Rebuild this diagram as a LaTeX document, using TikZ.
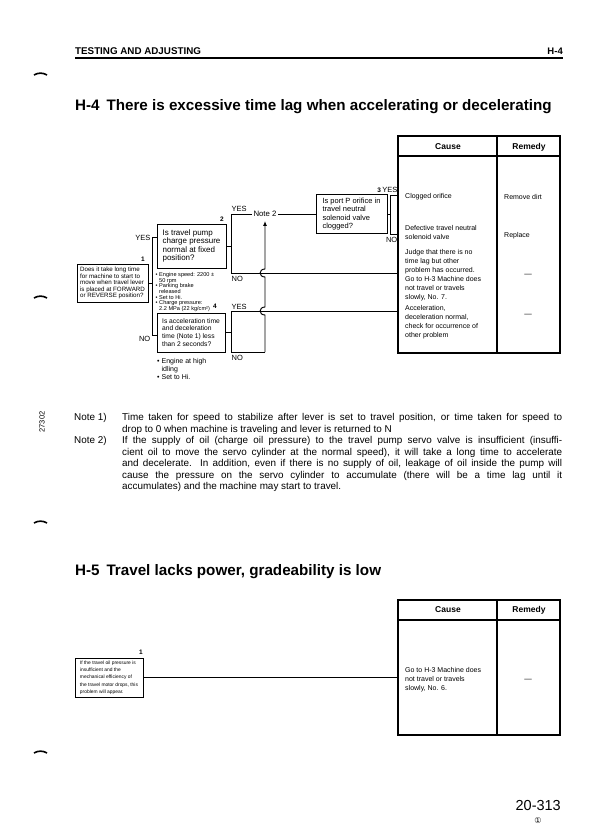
\documentclass[tikz,border=0pt]{standalone}
\usepackage{fontspec}
\setmainfont{Liberation Sans}
\newfontfamily\symfont{DejaVu Sans}
\usetikzlibrary{arrows.meta}
\newcommand\fsz[2]{\fontsize{#1}{#2}\selectfont}
\begin{document}
\begin{tikzpicture}[x=1pt,y=-1pt,
  conn/.style={line width=0.95pt},
  tline/.style={line width=1.1pt},
  boxq/.style={draw, line width=0.95pt, inner sep=0pt, align=left},
  tabl/.style={draw, line width=1.1pt, inner sep=0pt},
  lbl/.style={inner sep=0pt, font=\fsz{7.5}{8}},
  num/.style={inner sep=0pt, font=\bfseries\fsz{6.5}{7}},
  rowt/.style={inner sep=0pt, anchor=north west, align=left, font=\fsz{7}{8.9}},
  hdt/.style={inner sep=0pt, font=\bfseries\fsz{8.5}{9}},
  notel/.style={inner sep=0pt, anchor=base west, font=\fsz{9.9}{11}},
  mmark/.style={line width=1.6pt},
]
\useasboundingbox (0,0) rectangle (593,836);

% ---------- page header ----------
\node[anchor=base west, inner sep=0pt, font=\bfseries\fsz{9.8}{11}] (hdr) at (75,54) {TESTING AND ADJUSTING};
\node[anchor=base east, inner sep=0pt, font=\bfseries\fsz{9.5}{11}] (hdrr) at (563,54) {H-4};
\draw[line width=1.1pt] (75,58) -- (563,58);

% margin marks
\foreach \yy in {74,297,522,752}{
  \draw[mmark] (34,\yy+1) .. controls (38,\yy-1.5) and (43,\yy-1.5) .. (47,\yy+1);
}
\node[rotate=90, inner sep=0pt, font=\fsz{7.5}{8}] (code) at (42,422) {27302};

% ---------- H-4 ----------
\node[anchor=base west, inner sep=0pt, font=\bfseries\fsz{15.2}{18}] (title1) at (75,110) {H-4\hspace{0.45em}There is excessive time lag when accelerating or decelerating};

% table
\node[tabl, minimum width=162pt, minimum height=217pt] (tab1) at (479,244.5) {};
\draw[tline] (398,156) -- (560,156);
\draw[tline] (497,136) -- (497,353);
\node[hdt] (cause1) at (448,147) {Cause};
\node[hdt] (remedy1) at (529,147) {Remedy};

\node[rowt] (c1) at (405,193.5) {Clogged orifice};
\node[rowt] (c2) at (405,225) {Defective travel neutral\\solenoid valve};
\node[rowt] (c3) at (405,249.5) {Judge that there is no\\time lag but other\\problem has occurred.\\Go to H-3 Machine does\\not travel or travels\\slowly, No. 7.};
\node[rowt] (c4) at (405,305.5) {Acceleration,\\deceleration normal,\\check for occurrence of\\other problem};
\node[rowt] (m1) at (504,194.5) {Remove dirt};
\node[rowt] (m2) at (504,232.5) {Replace};
\node[inner sep=0pt, font=\fsz{7.5}{8}] (m3) at (528,275) {—};
\node[inner sep=0pt, font=\fsz{7.5}{8}] (m4) at (528,315) {—};

% boxes
\node[boxq, minimum width=71pt, minimum height=38pt, font=\fsz{6.2}{6.6}] (b1) at (112.5,283)
  {Does it take long time\\for machine to start to\\move when travel lever\\is placed at FORWARD\\or REVERSE position?};
\node[boxq, minimum width=69pt, minimum height=44pt, font=\fsz{8}{8.6}] (b2) at (191.5,246)
  {Is travel pump\\charge pressure\\normal at fixed\\position?};
\node[boxq, minimum width=71pt, minimum height=39pt, font=\fsz{7.5}{8.5}] (b3) at (351.5,214)
  {Is port P orifice in\\travel neutral\\solenoid valve\\clogged?};
\node[boxq, minimum width=68pt, minimum height=39pt, font=\fsz{6.7}{7.9}] (b4) at (191,332.5)
  {Is acceleration time\\and deceleration\\time (Note 1) less\\than 2 seconds?};

\node[inner sep=0pt, anchor=north west, align=left, font=\fsz{5.6}{5.6}] (bl2) at (155.5,272.5)
  {• Engine speed: 2200 ±\\\phantom{• }50 rpm\\• Parking brake\\\phantom{• }released\\• Set to Hi.\\• Charge pressure:\\\phantom{• }2.2 MPa (22 kg/cm²)};
\node[inner sep=0pt, anchor=north west, align=left, font=\fsz{7}{8}] (bl4) at (157,358)
  {• Engine at high\\\phantom{• }idling\\• Set to Hi.};

\node[inner xsep=1.5pt, inner ysep=4pt, font=\fsz{7.8}{8}] (n2) at (265,214) {Note 2};

% numbers and labels
\node[num] (k1) at (143,259.5) {1};
\node[num] (k2) at (222,219.5) {2};
\node[num] (k4) at (215,306.5) {4};
\node[lbl, anchor=east] (y1) at (150.5,238) {YES};
\node[lbl, anchor=east] (no1) at (150.5,338.5) {NO};
\node[lbl, anchor=west] (y2) at (231.5,208.5) {YES};
\node[lbl, anchor=west] (no2) at (231.5,279) {NO};
\node[lbl, anchor=east] (y3) at (397.5,190) {\textbf{\fsz{6.5}{7}3}\,YES};
\node[lbl, anchor=east] (no3) at (397.5,240) {NO};
\node[lbl, anchor=west] (y4) at (231.5,306.5) {YES};
\node[lbl, anchor=west] (no4) at (231.5,357.5) {NO};

% connector junctions
\coordinate (v1t) at (152,237);
\coordinate (v1b) at (152,335);
\coordinate (v2t) at (231,214);
\coordinate (v2b) at (231,273);
\coordinate (v3t) at (390,195);
\coordinate (v3b) at (390,234);
\coordinate (v4t) at (231,311);
\coordinate (v4b) at (231,352);
\coordinate (ar) at (265,352);

\draw[conn] (b1.east) -- (b1.east -| v1t);
\draw[conn] (b2.west |- v1t) -- (v1t) -- (v1b) -- (b4.west |- v1b);
\draw[conn] (b2.east) -- (b2.east -| v2t);
\draw[conn] (n2.west) -- (v2t) -- (v2b) -- (tab1.west |- v2b);
\draw[conn] (n2.east) -- (b3.west);
\draw[conn] (b3.east) -- (b3.east -| v3t);
\draw[conn] (tab1.west |- v3t) -- (v3t) -- (v3b) -- (tab1.west |- v3b);
\draw[conn] (b4.east) -- (b4.east -| v4t);
\draw[conn] (tab1.west |- v4t) -- (v4t) -- (v4b) -- (ar);
\draw[conn, -{Latex[length=5pt,width=4pt]}] (ar) -- (265,315)
  .. controls (258.5,315) and (258.5,307) .. (265,307) -- (265,277)
  .. controls (258.5,277) and (258.5,269) .. (265,269) -- (n2.south);

% ---------- notes ----------
\node[notel] (nl1) at (74,420.5) {Note 1)};
\node[notel] (nt1) at (122,420.5) {\makebox[440pt][s]{Time taken for speed to stabilize after lever is set to travel position, or time taken for speed to}};
\node[notel] (nt2) at (122,432) {drop to 0 when machine is traveling and lever is returned to N};
\node[notel] (nl2) at (74,443.5) {Note 2)};
\node[notel] (nt3) at (122,443.5) {\makebox[440pt][s]{If the supply of oil (charge oil pressure) to the travel pump servo valve is insufficient (insuffi-}};
\node[notel] (nt4) at (122,455) {\makebox[440pt][s]{cient oil to move the servo cylinder at the normal speed), it will take a long time to accelerate}};
\node[notel] (nt5) at (122,466.5) {\makebox[440pt][s]{and decelerate. In addition, even if there is no supply of oil, leakage of oil inside the pump will}};
\node[notel] (nt6) at (122,478) {\makebox[440pt][s]{cause the pressure on the servo cylinder to accumulate (there will be a time lag until it}};
\node[notel] (nt7) at (122,489.5) {accumulates) and the machine may start to travel.};

% ---------- H-5 ----------
\node[anchor=base west, inner sep=0pt, font=\bfseries\fsz{15.2}{18}] (title2) at (75,575) {H-5\hspace{0.45em}Travel lacks power, gradeability is low};

\node[tabl, minimum width=162pt, minimum height=135pt] (tab2) at (479,667.5) {};
\draw[tline] (398,620) -- (560,620);
\draw[tline] (497,600) -- (497,735);
\node[hdt] (cause2) at (448,610) {Cause};
\node[hdt] (remedy2) at (529,610) {Remedy};
\node[rowt] (d1) at (405,667.5) {Go to H-3 Machine does\\not travel or travels\\slowly, No. 6.};
\node[inner sep=0pt, font=\fsz{7.5}{8}] (e1) at (528,680) {—};

\node[boxq, minimum width=68pt, minimum height=39pt, font=\fsz{4.9}{7.3}] (h1) at (109,677.5)
  {If the travel oil pressure is\\insufficient and the\\mechanical efficiency of\\the travel motor drops, this\\problem will appear.};
\node[num] (hk1) at (141,652.5) {1};
\draw[conn] (h1.east) -- (tab2.west |- h1.east);

% ---------- footer ----------
\node[anchor=base east, inner sep=0pt, font=\fsz{14.5}{16}] (pg) at (561,810) {20-313};
\node[inner sep=0pt, font=\symfont\fsz{8}{9}] (rev) at (538,821) {①};
\end{tikzpicture}
\end{document}
